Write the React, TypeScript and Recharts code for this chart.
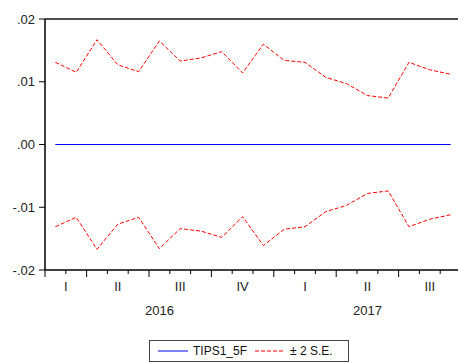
import { LineChart, Line, XAxis, YAxis, ReferenceLine } from 'recharts'

// monthly forecast sample, Feb 2016 .. Sep 2017
const months = [
  '2016M02', '2016M03', '2016M04', '2016M05', '2016M06', '2016M07', '2016M08',
  '2016M09', '2016M10', '2016M11', '2016M12', '2017M01', '2017M02', '2017M03',
  '2017M04', '2017M05', '2017M06', '2017M07', '2017M08', '2017M09',
]
const forecast = [0, 0, 0, 0, 0, 0, 0, 0, 0, 0, 0, 0, 0, 0, 0, 0, 0, 0, 0, 0]
const upperBand = [
  0.0131, 0.0115, 0.0167, 0.0127, 0.0116, 0.0165, 0.0133, 0.0138, 0.0148, 0.0114,
  0.016, 0.0134, 0.0131, 0.0107, 0.0097, 0.0078, 0.0074, 0.0131, 0.0119, 0.0112,
]
const lowerBand = [
  -0.0131, -0.0116, -0.0167, -0.0127, -0.0116, -0.0166, -0.0134, -0.0138, -0.0148, -0.0115,
  -0.0161, -0.0135, -0.0131, -0.0107, -0.0097, -0.0078, -0.0074, -0.0131, -0.0119, -0.0112,
]
const yTicks = [-0.02, -0.01, 0, 0.01, 0.02]
const quarterNames = ['I', 'II', 'III', 'IV']

const data = months.map((m, i) => ({
  month: m,
  fc: forecast[i],
  up: upperBand[i],
  lo: lowerBand[i],
}))

const W = 462
const H = 362
const LEFT = 45
const PLOT_W = W - LEFT - 1
const BW = PLOT_W / months.length
const FONT = '"Liberation Sans", Arial, sans-serif'

const yearOf = (m: string) => m.slice(0, 4)
const quarterOf = (m: string) => Math.floor((Number(m.slice(5)) - 1) / 3)

function MonthTick(props: any) {
  const { x, y, index } = props
  const m = months[index]
  const q = quarterOf(m)
  const yr = yearOf(m)
  const qStart = Number(m.slice(5)) % 3 === 1
  const xb = x - BW / 2

  // quarter / year labels sit at the center of the months present in the data
  const prev = index > 0 ? months[index - 1] : null
  const firstOfQ = !prev || quarterOf(prev) !== q || yearOf(prev) !== yr
  const firstOfY = !prev || yearOf(prev) !== yr
  let lastQ = index
  while (lastQ + 1 < months.length && quarterOf(months[lastQ + 1]) === q && yearOf(months[lastQ + 1]) === yr) lastQ++
  let lastY = index
  while (lastY + 1 < months.length && yearOf(months[lastY + 1]) === yr) lastY++

  return (
    <g>
      <line x1={xb} x2={xb} y1={y} y2={y + (qStart || index === 0 ? 7 : 4)} stroke="#000" strokeWidth={1} />
      {firstOfQ && (
        <text x={x + ((lastQ - index) / 2) * BW} y={y + 21} textAnchor="middle" fontSize={13} fill="#222" fontFamily={FONT}>
          {quarterNames[q]}
        </text>
      )}
      {firstOfY && (
        <text x={x + ((lastY - index) / 2) * BW} y={y + 45} textAnchor="middle" fontSize={13} fill="#222" fontFamily={FONT}>
          {yr}
        </text>
      )}
    </g>
  )
}

const fmtY = (v: number) => {
  if (v === 0) return '.00'
  const s = Math.abs(v).toFixed(2).replace(/^0/, '')
  return v < 0 ? '-' + s : s
}

export default function App() {
  return (
    <div style={{ position: 'absolute', left: 0, top: 0, width: 458, height: H, overflow: 'hidden', background: '#fff' }}>
      <LineChart width={W} height={H} data={data} margin={{ top: 19, right: 1, bottom: 0, left: 0 }}>
        <XAxis
          dataKey="month"
          scale="band"
          interval={0}
          height={92}
          tickLine={false}
          tickSize={0}
          tickMargin={0}
          axisLine={{ stroke: '#000', strokeWidth: 1.5 }}
          tick={<MonthTick />}
        />
        <YAxis
          domain={[-0.02, 0.02]}
          ticks={yTicks}
          width={LEFT}
          tickFormatter={fmtY}
          tickSize={6}
          tickMargin={4}
          axisLine={{ stroke: '#000', strokeWidth: 1.5 }}
          tickLine={{ stroke: '#000' }}
          tick={{ fontSize: 13, fill: '#222', fontFamily: FONT }}
        />
        <ReferenceLine y={0.02} stroke="#111" strokeWidth={1.5} />
        <Line dataKey="up" stroke="#ff0000" strokeWidth={1} strokeDasharray="4 2" dot={false} isAnimationActive={false} />
        <Line dataKey="lo" stroke="#ff0000" strokeWidth={1} strokeDasharray="4 2" dot={false} isAnimationActive={false} />
        <Line dataKey="fc" stroke="#0000ff" strokeWidth={1.2} dot={false} isAnimationActive={false} />
      </LineChart>
      <div
        style={{
          position: 'absolute',
          left: 149,
          top: 340,
          width: 200,
          height: 22,
          boxSizing: 'border-box',
          border: '1px solid #444',
          display: 'flex',
          alignItems: 'center',
          paddingLeft: 8,
          fontFamily: FONT,
          fontSize: 12,
          color: '#111',
        }}
      >
        <svg width={30} height={4}><line x1={0} x2={30} y1={2} y2={2} stroke="#0000ff" strokeWidth={1} /></svg>
        <span style={{ marginLeft: 5 }}>TIPS1_5F</span>
        <svg width={30} height={4} style={{ marginLeft: 8 }}><line x1={0} x2={30} y1={2} y2={2} stroke="#ff0000" strokeWidth={1} strokeDasharray="4 2" /></svg>
        <span style={{ marginLeft: 5 }}>± 2 S.E.</span>
      </div>
    </div>
  )
}
